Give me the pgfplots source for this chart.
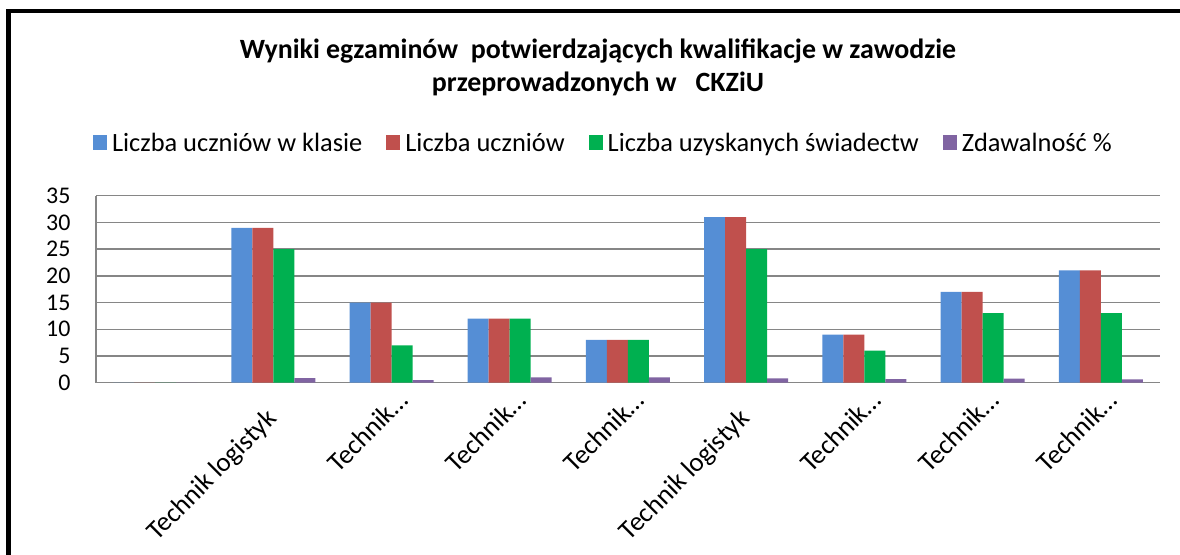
\documentclass[border=0pt]{standalone}
\usepackage{fontspec}
\setmainfont{Carlito}
\usepackage{pgfplots}
\pgfplotsset{compat=1.18}

\definecolor{serA}{HTML}{558ED5}
\definecolor{serB}{HTML}{C0504D}
\definecolor{serC}{HTML}{00B050}
\definecolor{serD}{HTML}{8064A2}
\definecolor{gridc}{HTML}{868686}

\begin{document}
\begin{tikzpicture}
  \path[use as bounding box] (0,0) rectangle (1180bp,555bp);
  % ramka (lewa i gorna krawedz)
  \draw[line width=4.5bp] (8.5bp,0) -- (8.5bp,544bp) -- (1180bp,544bp);
  \node[font=\fontsize{28}{32}\selectfont\bfseries] at (598bp,504bp) {Wyniki egzaminów \ potwierdzających kwalifikacje w zawodzie};
  \node[font=\fontsize{28}{32}\selectfont\bfseries] at (598bp,471bp) {przeprowadzonych w \ \ CKZiU};
  \begin{axis}[
    at={(96bp,172.3bp)}, anchor=south west,
    scale only axis, width=1064bp, height=187bp,
    ybar=0pt, bar width=21bp,
    xmin=-0.5, xmax=8.5, ymin=0, ymax=35,
    ytick={0,5,...,35},
    xtick={0,2,3,4,6,7,8},
    xticklabels={,Technik…,Technik…,Technik…,Technik…,Technik…,Technik…},
    extra x ticks={1,5},
    extra x tick labels={Technik logistyk,Technik logistyk},
    % przesuniecia liczone w ukladzie obroconym o 45 stopni
    x tick label style={rotate=45, anchor=north east, inner sep=0pt,
      xshift=-1bp, yshift=-8bp, font=\fontsize{27}{31}\selectfont},
    extra x tick style={x tick label style={xshift=-22bp, yshift=-3bp}},
    axis x line=bottom, axis y line=left,
    axis line style={gridc, line width=1.5bp, -},
    major tick length=0pt,
    ymajorgrids, grid style={gridc, line width=1.5bp},
    y tick label style={font=\fontsize{24}{28}\selectfont, xshift=-22bp},
    /pgf/number format/assume math mode=true,
    legend columns=4,
    legend style={at={(0.476,1.282)}, anchor=center, draw=none,
      font=\fontsize{26.5}{30}\selectfont,
      nodes={inner xsep=0pt},
      /tikz/every odd column/.append style={column sep=5bp},
      /tikz/every even column/.append style={column sep=24bp}},
    legend image code/.code={\fill[#1] (0bp,-7.5bp) rectangle (14bp,7.5bp);},
    clip=false,
  ]
    \addplot[draw=none, fill=serA] coordinates {(0,0) (1,29) (2,15) (3,12) (4,8) (5,31) (6,9) (7,17) (8,21)};
    \addlegendentry{Liczba uczniów w klasie}
    \addplot[draw=none, fill=serB] coordinates {(0,0) (1,29) (2,15) (3,12) (4,8) (5,31) (6,9) (7,17) (8,21)};
    \addlegendentry{Liczba uczniów}
    \addplot[draw=none, fill=serC] coordinates {(0,0) (1,25) (2,7) (3,12) (4,8) (5,25) (6,6) (7,13) (8,13)};
    \addlegendentry{Liczba uzyskanych świadectw}
    \addplot[draw=none, fill=serD] coordinates {(0,0) (1,0.86) (2,0.47) (3,1) (4,1) (5,0.81) (6,0.67) (7,0.76) (8,0.62)};
    \addlegendentry{Zdawalność \%}
  \end{axis}
\end{tikzpicture}
\end{document}
